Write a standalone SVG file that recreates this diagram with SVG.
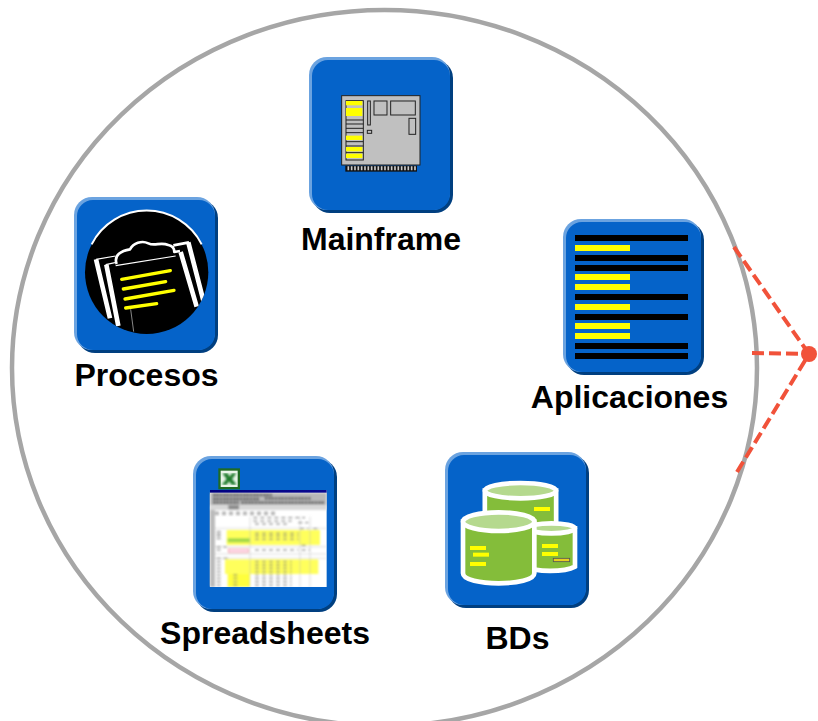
<svg xmlns="http://www.w3.org/2000/svg" width="818" height="721" viewBox="0 0 818 721">
<style>
.lb{font:bold 32px "Liberation Sans",Arial,sans-serif;fill:#000;text-anchor:middle}
.sh{fill:#003f80}.hi{fill:#6ba3e0}.bt{fill:#0563c9}
.k{fill:#000}.y{fill:#ff0}
.cy{fill:#84bd3a;stroke:#fff;stroke-width:14}
.cap{fill:#b5d98e;stroke:#fff;stroke-width:14}
.w{fill:none;stroke:#fff;stroke-linejoin:round}
.yl{stroke:#ff0;stroke-width:10;stroke-linecap:round}
.chip{fill:none;stroke:#222;stroke-width:3}
.ln{stroke:#bbb;stroke-width:1.500}
.con{fill:none;stroke:#f1523a;stroke-width:4;stroke-dasharray:12 5}
</style>
<defs>
<clipPath id="cc"><circle cx="245" cy="247" r="185"/></clipPath>
<filter id="bl" x="0" y="0" width="1" height="1"><feGaussianBlur stdDeviation="3"/></filter>
<linearGradient id="tg" x1="0" y1="0" x2="1" y2="0"><stop offset="0" stop-color="#000080"/><stop offset="1" stop-color="#0a0a90"/></linearGradient>
</defs>
<ellipse cx="384.5" cy="368" rx="372.5" ry="358" fill="#fff" stroke="#a6a6a6" stroke-width="4.5"/>

<g id="mainframe">
<rect class="sh" x="312" y="60" width="141" height="153" rx="18"/>
<rect class="hi" x="309" y="57" width="141" height="153" rx="18"/>
<rect class="bt" x="312" y="60" width="138" height="150" rx="16"/>
<g transform="translate(300,50) scale(.3333)">
<rect x="136" y="347" width="215" height="18" fill="#111"/>
<path d="M145 349V361M155 349V361M165 349V361M175 349V361M185 349V361M195 349V361M205 349V361M215 349V361M225 349V361M235 349V361M245 349V361M255 349V361M265 349V361M275 349V361M285 349V361M295 349V361M305 349V361M315 349V361M325 349V361M335 349V361M345 349V361" stroke="#ccc" stroke-width="5"/>
<rect x="125" y="137" width="235" height="208" fill="#c0c0c0" stroke="#222" stroke-width="3"/>
<rect class="chip" x="138" y="152" width="52" height="178"/>
<path d="M138 210H190M138 222H190M138 235H190M138 248H190M138 275H190M138 288H190M138 308H190" stroke="#222" stroke-width="3"/>
<rect class="y" x="138" y="153" width="49" height="13"/>
<rect class="y" x="138" y="174" width="49" height="24"/>
<rect class="y" x="138" y="257" width="49" height="13"/>
<rect class="y" x="138" y="291" width="49" height="13"/>
<rect class="y" x="138" y="311" width="49" height="13"/>
<rect class="chip" x="203" y="153" width="8" height="72"/>
<rect class="chip" x="202" y="241" width="13" height="9"/>
<rect class="chip" x="222" y="153" width="39" height="42"/>
<rect class="chip" x="272" y="153" width="74" height="42"/>
<rect class="chip" x="327" y="205" width="20" height="48"/>
</g>
<text class="lb" x="381" y="250">Mainframe</text>
</g>

<g id="procesos">
<rect class="sh" x="77" y="200" width="141" height="153" rx="18"/>
<rect class="hi" x="74" y="197" width="141" height="153" rx="18"/>
<rect class="bt" x="77" y="200" width="138" height="150" rx="16"/>
<g transform="translate(65,190) scale(.3333)">
<circle cx="245" cy="247" r="185" class="k"/>
<path d="M80 163A185 185 0 0 1 410 163" class="w" stroke-width="6"/>
<g clip-path="url(#cc)">
<path d="M93 208L135 385M124 224L160 408M347 186L395 350M370 157L416 335" class="w" stroke-width="14"/>
<path d="M93 208L152 198M122 224L150 218M152 227L332 198" class="w" stroke-width="3.500"/>
<path d="M155 222C145 195 170 182 195 178C205 160 230 150 250 160C270 170 285 155 310 165C325 168 328 178 328 186L345 183M325 166L372 157" class="w" stroke-width="8"/>
<path d="M197 358L206 425" stroke="#ccc" stroke-width="2"/>
</g>
<path class="yl" d="M170 268L316 242M175 297L302 275M180 327L327 301M182 354L275 341"/>
</g>
<text class="lb" x="146.500" y="386">Procesos</text>
</g>

<g id="aplicaciones">
<rect class="sh" x="566" y="222" width="138" height="153" rx="18"/>
<rect class="hi" x="563" y="219" width="138" height="153" rx="18"/>
<rect class="bt" x="566" y="222" width="135" height="150" rx="16"/>
<rect class="k" x="575" y="235" width="113" height="6"/>
<rect class="y" x="575" y="245" width="55" height="6"/>
<rect class="k" x="575" y="255" width="113" height="6"/>
<rect class="k" x="575" y="265" width="113" height="6"/>
<rect class="y" x="575" y="274" width="55" height="6"/>
<rect class="y" x="575" y="284" width="55" height="6"/>
<rect class="k" x="575" y="294" width="113" height="6"/>
<rect class="y" x="575" y="304" width="55" height="6"/>
<rect class="k" x="575" y="314" width="113" height="6"/>
<rect class="y" x="575" y="323" width="55" height="6"/>
<rect class="y" x="575" y="333" width="55" height="6"/>
<rect class="k" x="575" y="343" width="113" height="6"/>
<rect class="k" x="575" y="353" width="113" height="6"/>
<text class="lb" x="629.500" y="408">Aplicaciones</text>
</g>

<g id="spreadsheets">
<rect class="sh" x="196" y="459" width="141" height="153" rx="18"/>
<rect class="hi" x="193" y="456" width="141" height="153" rx="18"/>
<rect class="bt" x="196" y="459" width="138" height="150" rx="16"/>
<g transform="translate(185,450) scale(.3333)">
<rect x="100" y="55" width="65" height="63" fill="#1e6b24"/>
<rect x="107" y="62" width="51" height="49" fill="#e8f4e8"/>
<path d="M112 70H128L134 80L141 70H154L141 87L155 104H140L132 94L125 104H110L125 87Z" fill="#1e7a2c" filter="url(#bl)"/>
<rect x="75" y="120" width="350" height="291" fill="#fff"/>
<g filter="url(#bl)">
<rect x="75" y="128" width="350" height="38" fill="#b8b8b8"/>
<path d="M85 135H260M240 145H380M85 147H225M170 158H420M85 158H160" stroke="#333" stroke-width="7" stroke-dasharray="6 4"/>
<rect x="75" y="166" width="350" height="14" fill="#d8d8d8"/>
<rect x="130" y="166" width="32" height="12" fill="#888"/>
<rect x="75" y="180" width="15" height="231" fill="#bbb"/>
<rect x="125" y="240" width="280" height="45" fill="#ffff5c"/>
<rect x="120" y="328" width="280" height="44" fill="#ffff5c"/>
<rect x="128" y="372" width="67" height="39" fill="#ffff3c"/>
<rect x="128" y="265" width="67" height="12" fill="#a0d84c"/>
<rect x="130" y="297" width="60" height="10" fill="#fde" stroke="#e88" stroke-width="2"/>
<path class="ln" d="M195 200V411M90 235H425M90 290H425M90 312H425M375 200V411M345 200V411M90 325H425"/>
<path d="M90 187H270M90 193H270M205 203H360M205 213H320M210 222H310M340 218H370M345 236H370M385 236H405M95 245H115M95 252H115M95 258H115M95 266H115M95 291H125M95 300H115M95 325H135M210 250H340M210 258H340M210 268H340M210 300H340M350 286H370M350 300H375M210 335H320M210 345H320M210 355H320M210 365H320M210 375H320M210 385H320M210 395H320M210 405H320M145 375H165M145 385H165M145 395H165M145 405H165M95 335H115M95 345H115M95 355H115M95 365H115M95 375H115M95 385H115M95 395H115M95 405H115" stroke="#777" stroke-width="3" stroke-dasharray="12 9"/>
</g>
<rect x="75" y="120" width="350" height="8" fill="url(#tg)"/>
</g>
<text class="lb" x="265" y="644">Spreadsheets</text>
</g>

<g id="bds">
<rect class="sh" x="448" y="455" width="141" height="153" rx="18"/>
<rect class="hi" x="445" y="452" width="141" height="153" rx="18"/>
<rect class="bt" x="448" y="455" width="138" height="150" rx="16"/>
<g transform="translate(438,445) scale(.3333)">
<path class="cy" d="M140.500 137V240H354.500V137Z"/>
<ellipse class="cap" cx="247.500" cy="137" rx="107" ry="23"/>
<rect class="y" x="288" y="186" width="48" height="12"/>
<path class="cy" d="M268 250V365C290 382 380 382 411 365V250Z"/>
<ellipse class="cap" cx="340" cy="250" rx="71" ry="15"/>
<rect class="y" x="312" y="297" width="48" height="12"/>
<rect class="y" x="312" y="321" width="48" height="12"/>
<rect x="346" y="340" width="49" height="10" fill="#e8d020" stroke="#555" stroke-width="2.500"/>
<path class="cy" d="M75 230V385C75 425 289 425 289 385V230Z"/>
<ellipse class="cap" cx="182" cy="230" rx="107" ry="28"/>
<rect class="y" x="96" y="303" width="48" height="12"/>
<rect class="y" x="105" y="323" width="48" height="12"/>
<rect class="y" x="96" y="351" width="48" height="12"/>
</g>
<text class="lb" x="517.500" y="649">BDs</text>
</g>

<g id="connectors">
<path class="con" d="M734 247L809 354"/>
<path class="con" d="M752 353L809 354"/>
<path class="con" d="M737 472L809 354"/>
</g>
<g id="hub"><circle cx="809" cy="354" r="8" fill="#f1523a"/></g>
</svg>
